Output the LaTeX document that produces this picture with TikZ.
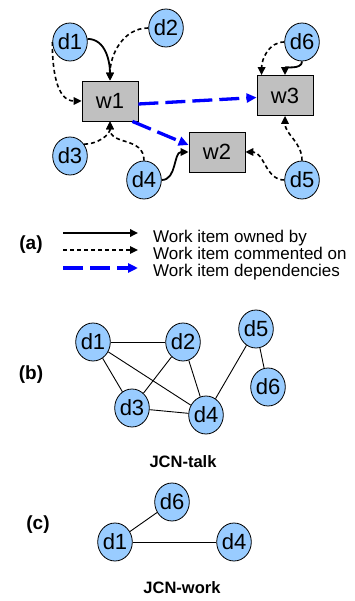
\documentclass[tikz,border=0pt]{standalone}
\usepackage{fontspec}
\setmainfont{Liberation Sans}
\usetikzlibrary{shapes.geometric,arrows.meta}
\definecolor{devblue}{HTML}{99CCFF}
\definecolor{itemgray}{HTML}{C0C0C0}
\tikzset{
  dev/.style={ellipse,draw=black,line width=0.8pt,fill=devblue,minimum width=34pt,minimum height=38pt,inner sep=0pt,font=\fontsize{22}{24}\selectfont},
  item/.style={rectangle,draw=black,line width=0.8pt,fill=itemgray,minimum width=56pt,minimum height=40pt,inner sep=0pt,font=\fontsize{22}{24}\selectfont},
  own/.style={line width=1.8pt,-{Triangle[length=8pt,width=7.5pt]}},
  cmt/.style={line width=1.6pt,dash pattern=on 4pt off 3pt,-{Triangle[length=8pt,width=7.5pt]}},
  dep/.style={draw=blue,line width=3.3pt,dash pattern=on 20pt off 7pt,-{Triangle[length=10pt,width=9pt]}},
  tie/.style={line width=0.9pt},
  legtext/.style={anchor=base west,inner sep=0pt,font=\fontsize{17}{19}\selectfont},
  tag/.style={inner sep=0pt,font=\fontsize{19}{21}\selectfont\bfseries},
  caption/.style={inner sep=0pt,font=\fontsize{16.5}{18}\selectfont\bfseries},
}
\begin{document}
\begin{tikzpicture}[x=1pt,y=-1pt]
\useasboundingbox (0,0) rectangle (355,601);

% (a) developers, work items and their relations
\node[item] (w1) at (110,101) {w1};
\node[item] (w2) at (217,152) {w2};
\node[item] (w3) at (285,95.5) {w3};
\node[dev] (a1) at (70,42) {d1};
\node[dev] (a2) at (166,28) {d2};
\node[dev] (a3) at (70,156) {d3};
\node[dev] (a4) at (144,180) {d4};
\node[dev] (a5) at (302,180) {d5};
\node[dev] (a6) at (302,42) {d6};

\draw[own] (a1.10) to[out=0,in=90] (w1.north);
\draw[cmt] (a2.west) to[out=180,in=90] (w1.north);
\draw[cmt] (a1.west) to[out=-90,in=180] (w1.west);
\draw[cmt] (a3.40) to[out=0,in=-90] (w1.south);
\draw[cmt] (a4.north) to[out=90,in=-90,looseness=1.2] (w1.south);
\draw[own] (a4.east) to[out=0,in=180] (w2.west);
\draw[cmt] (a5.west) to[out=180,in=0] (w2.east);
\draw[cmt] (a5.north) to[out=90,in=-90] (w3.south);
\draw[cmt] (a6.west) to[out=180,in=90] ([xshift=5pt]w3.north west);
\draw[own] (a6.south) to[out=-90,in=90] (w3.north);
\draw[dep] ([yshift=-3pt]w1.east) -- ([yshift=-2pt]w3.west);
\draw[dep] ([xshift=-6pt]w1.south east) -- ([yshift=7pt]w2.west);

% legend
\node[tag] (ta) at (31,245) {(a)};
\coordinate (l1a) at (63,233);
\coordinate (l1b) at (138,233);
\coordinate (l2a) at (63,250);
\coordinate (l2b) at (138,250);
\coordinate (l3a) at (63,268);
\coordinate (l3b) at (138,268);
\draw[own] (l1a) -- (l1b);
\draw[cmt] (l2a) -- (l2b);
\draw[dep] (l3a) -- (l3b);
\node[legtext] (t1) at (153,243) {Work item owned by};
\node[legtext] (t2) at (153,259.5) {Work item commented on};
\node[legtext] (t3) at (153,276) {Work item dependencies};

% (b) JCN-talk
\node[tag] (tb) at (31,375) {(b)};
\node[dev] (b1) at (93,342) {d1};
\node[dev] (b2) at (183,342) {d2};
\node[dev] (b3) at (132,408) {d3};
\node[dev] (b4) at (206,415) {d4};
\node[dev] (b5) at (256,329) {d5};
\node[dev] (b6) at (268,387) {d6};
\draw[tie] (b1) -- (b2);
\draw[tie] (b1) -- (b3);
\draw[tie] (b1) -- (b4);
\draw[tie] (b2) -- (b3);
\draw[tie] (b2) -- (b4);
\draw[tie] (b3) -- (b4);
\draw[tie] (b4) -- (b5);
\draw[tie] (b5) -- (b6);
\node[caption] (cb) at (183,462) {JCN-talk};

% (c) JCN-work
\node[tag] (tc) at (38,525) {(c)};
\node[dev] (c6) at (172,502) {d6};
\node[dev] (c1) at (115,542) {d1};
\node[dev] (c4) at (234,542) {d4};
\draw[tie] (c1) -- (c6);
\draw[tie] (c1) -- (c4);
\node[caption] (cc) at (182,588) {JCN-work};
\end{tikzpicture}
\end{document}
